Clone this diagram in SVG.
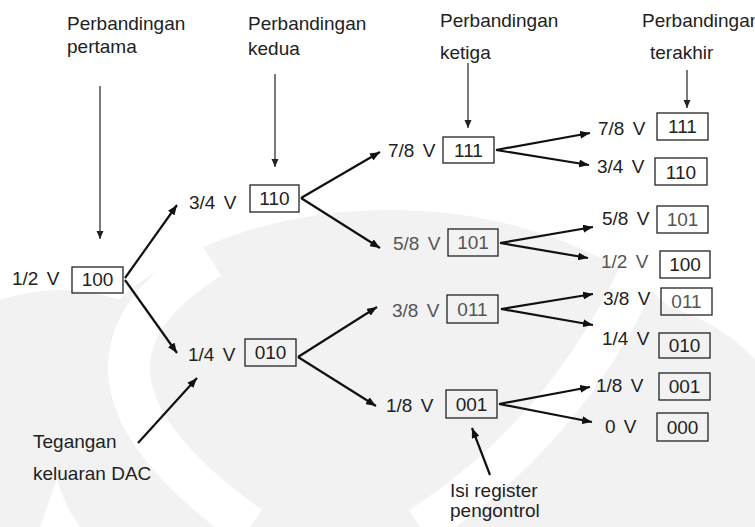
<svg xmlns="http://www.w3.org/2000/svg" width="755" height="527" viewBox="0 0 755 527">
  <defs>
    <style>
      text { font-family: "Liberation Sans", Arial, sans-serif; font-size: 19px; fill: #222; }
      .v { word-spacing: 3px; }
      .dim { fill: #555; }
      .box { fill: none; stroke: #222; stroke-width: 1.3; }
      .code { text-anchor: middle; }
      .thin { stroke: #222; stroke-width: 1.2; fill: none; }
      .thick { stroke: #111; stroke-width: 2.2; fill: none; }
      .shade { fill: #f2f2f2; }
    </style>
    <marker id="ah" viewBox="0 0 10 8" refX="10" refY="4" markerWidth="10" markerHeight="8" markerUnits="userSpaceOnUse" orient="auto">
      <path d="M0,0 L10,4 L0,8 z" fill="#111"/>
    </marker>
    <marker id="ahs" viewBox="0 0 8 8" refX="8" refY="4" markerWidth="8" markerHeight="8" markerUnits="userSpaceOnUse" orient="auto">
      <path d="M0,0.5 L8,4 L0,7.5 z" fill="#222"/>
    </marker>
  </defs>

  <!-- faint background emblem -->
  <g id="emblem">
    <rect width="755" height="527" fill="#fff"/>
    <ellipse class="shade" cx="390" cy="435" rx="340" ry="225"/>
    <path class="shade" d="M0,300 Q60,280 120,300 L40,527 L0,527 z"/>
    <path class="shade" d="M650,300 Q720,320 755,360 L755,527 L620,527 z"/>
    <path d="M210,258 Q30,370 250,527" stroke="#fff" stroke-width="42" fill="none"/>
    <path d="M645,260 Q570,430 420,527" stroke="#fff" stroke-width="40" fill="none"/>
  </g>

  <!-- captions -->
  <g id="cap-pertama">
    <text x="67" y="30">Perbandingan</text>
    <text x="67" y="53">pertama</text>
  </g>
  <g id="cap-kedua">
    <text x="248" y="30">Perbandingan</text>
    <text x="248" y="55">kedua</text>
  </g>
  <g id="cap-ketiga">
    <text x="440" y="27">Perbandingan</text>
    <text x="440" y="59">ketiga</text>
  </g>
  <g id="cap-terakhir">
    <text x="642" y="27">Perbandingan</text>
    <text x="650" y="59">terakhir</text>
  </g>
  <g id="cap-dac">
    <text x="33" y="448">Tegangan</text>
    <text x="33" y="480">keluaran DAC</text>
  </g>
  <g id="cap-register">
    <text x="450" y="497">Isi register</text>
    <text x="450" y="517">pengontrol</text>
  </g>

  <!-- stage 1 -->
  <g id="n100">
    <text class="v" x="12" y="285">1/2 V</text>
    <rect class="box" x="72" y="267" width="51" height="26"/>
    <text class="code" x="97.5" y="286">100</text>
  </g>

  <!-- stage 2 -->
  <g id="n110">
    <text class="v" x="189" y="209">3/4 V</text>
    <rect class="box" x="250" y="185" width="49" height="27"/>
    <text class="code" x="274.5" y="205">110</text>
  </g>
  <g id="n010">
    <text class="v" x="188" y="361">1/4 V</text>
    <rect class="box" x="245" y="339" width="51" height="27"/>
    <text class="code" x="270.5" y="359">010</text>
  </g>

  <!-- stage 3 -->
  <g id="n111a">
    <text class="v" x="388" y="157">7/8 V</text>
    <rect class="box" x="443" y="137" width="51" height="26"/>
    <text class="code" x="468.5" y="157">111</text>
  </g>
  <g id="n101a">
    <text class="v dim" x="393" y="250">5/8 V</text>
    <rect class="box" x="448" y="229" width="50" height="27"/>
    <text class="code dim" x="473" y="249">101</text>
  </g>
  <g id="n011a">
    <text class="v dim" x="392" y="317">3/8 V</text>
    <rect class="box" x="447" y="295" width="51" height="28"/>
    <text class="code dim" x="472.5" y="316">011</text>
  </g>
  <g id="n001a">
    <text class="v" x="386" y="412">1/8 V</text>
    <rect class="box" x="446" y="390" width="51" height="28"/>
    <text class="code" x="471.5" y="411">001</text>
  </g>

  <!-- stage 4 -->
  <g id="n111">
    <text class="v" x="598" y="135">7/8 V</text>
    <rect class="box" x="657" y="113" width="51" height="27"/>
    <text class="code" x="682.5" y="133">111</text>
  </g>
  <g id="n110b">
    <text class="v" x="597" y="173">3/4 V</text>
    <rect class="box" x="655" y="158" width="52" height="27"/>
    <text class="code" x="681" y="179">110</text>
  </g>
  <g id="n101">
    <text class="v" x="602" y="225">5/8 V</text>
    <rect class="box" x="657" y="206" width="51" height="27"/>
    <text class="code dim" x="682.5" y="226">101</text>
  </g>
  <g id="n100b">
    <text class="v dim" x="601" y="268">1/2 V</text>
    <rect class="box" x="660" y="251" width="50" height="27"/>
    <text class="code" x="685" y="271">100</text>
  </g>
  <g id="n011">
    <text class="v" x="603" y="305">3/8 V</text>
    <rect class="box" x="661" y="288" width="51" height="27"/>
    <text class="code dim" x="686.5" y="308">011</text>
  </g>
  <g id="n010b">
    <text class="v" x="602" y="345">1/4 V</text>
    <rect class="box" x="659" y="333" width="51" height="25"/>
    <text class="code" x="684.5" y="352">010</text>
  </g>
  <g id="n001">
    <text class="v" x="596" y="392">1/8 V</text>
    <rect class="box" x="659" y="373" width="51" height="27"/>
    <text class="code" x="684.5" y="393">001</text>
  </g>
  <g id="n000">
    <text class="v" x="605" y="433">0 V</text>
    <rect class="box" x="657" y="413" width="51" height="28"/>
    <text class="code" x="682.5" y="434">000</text>
  </g>

  <!-- connectors -->
  <g id="connectors">
    <line class="thin" x1="100" y1="86" x2="100" y2="239" marker-end="url(#ahs)"/>
    <line class="thin" x1="275" y1="74" x2="275" y2="167" marker-end="url(#ahs)"/>
    <line class="thin" x1="468" y1="63" x2="468" y2="128" marker-end="url(#ahs)"/>
    <line class="thin" x1="687" y1="70" x2="687" y2="108" marker-end="url(#ahs)"/>

    <line class="thick" x1="125" y1="278" x2="177" y2="205" marker-end="url(#ah)"/>
    <line class="thick" x1="125" y1="280" x2="177" y2="353" marker-end="url(#ah)"/>
    <line class="thick" x1="138" y1="443" x2="197" y2="378" marker-end="url(#ah)"/>

    <line class="thick" x1="301" y1="198" x2="380" y2="152" marker-end="url(#ah)"/>
    <line class="thick" x1="301" y1="198" x2="380" y2="248" marker-end="url(#ah)"/>
    <line class="thick" x1="298" y1="357" x2="377" y2="307" marker-end="url(#ah)"/>
    <line class="thick" x1="298" y1="357" x2="376" y2="406" marker-end="url(#ah)"/>

    <line class="thick" x1="496" y1="150" x2="590" y2="133" marker-end="url(#ah)"/>
    <line class="thick" x1="496" y1="150" x2="589" y2="165" marker-end="url(#ah)"/>
    <line class="thick" x1="500" y1="243" x2="593" y2="227" marker-end="url(#ah)"/>
    <line class="thick" x1="500" y1="243" x2="588" y2="258" marker-end="url(#ah)"/>
    <line class="thick" x1="501" y1="309" x2="593" y2="294" marker-end="url(#ah)"/>
    <line class="thick" x1="501" y1="309" x2="593" y2="325" marker-end="url(#ah)"/>
    <line class="thick" x1="499" y1="404" x2="590" y2="387" marker-end="url(#ah)"/>
    <line class="thick" x1="499" y1="404" x2="592" y2="422" marker-end="url(#ah)"/>

    <line class="thick" x1="490" y1="475" x2="472" y2="428" marker-end="url(#ah)"/>
  </g>
</svg>
